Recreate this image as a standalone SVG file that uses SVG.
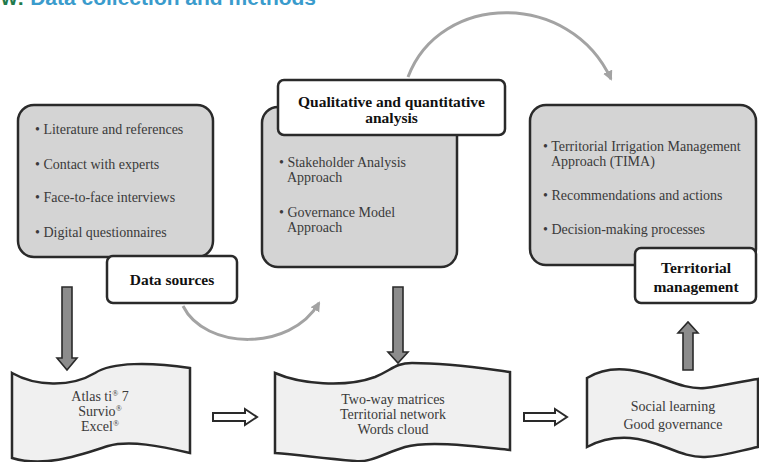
<svg xmlns="http://www.w3.org/2000/svg" width="759" height="462" viewBox="0 0 759 462">
<defs>
<style>
.title{font-family:"Liberation Sans",Arial,sans-serif;font-size:21px;font-weight:bold}
.box{fill:#d4d4d4;stroke:#2a2a2a;stroke-width:2.5}
.lbl{fill:#ffffff;stroke:#2a2a2a;stroke-width:2.5}
.tape{fill:#f0f0f0;stroke:#2a2a2a;stroke-width:2.5}
.t{font-family:"Liberation Serif","Times New Roman",serif;font-size:14px;fill:#3a3a3a}
.b{font-family:"Liberation Serif","Times New Roman",serif;font-size:15.5px;font-weight:bold;fill:#111}
.c{text-anchor:middle}
.down{fill:#8c8c8c;stroke:#2a2a2a;stroke-width:1.6}
.right{fill:#ffffff;stroke:#2a2a2a;stroke-width:2}
.curve{fill:none;stroke:#a3a3a3;stroke-width:3}
</style>
<marker id="ah" markerUnits="userSpaceOnUse" markerWidth="12" markerHeight="12" refX="8" refY="5" orient="auto">
<path d="M0,0 L10,5 L0,10 Z" fill="#a3a3a3"/>
</marker>
</defs>

<text class="title" x="1" y="5"><tspan fill="#1f7a4c">w:</tspan><tspan fill="#3a9bcc"> Data collection and methods</tspan></text>

<g id="connectors">
<path class="curve" d="M183,306 C205,350 290,352 319,303" marker-end="url(#ah)"/>
<path class="curve" d="M408,77 C440,-8 570,-10 611,79" marker-end="url(#ah)"/>
<path class="down" d="M62,287 L72,287 L72,358 L77,358 L67,370 L57,358 L62,358 Z"/>
<path class="down" d="M393,287 L403,287 L403,352 L408,352 L398,363 L388,352 L393,352 Z"/>
<path class="down" d="M683,370 L693,370 L693,333 L698,333 L688,322 L678,333 L683,333 Z"/>
<path class="right" d="M213,413 L245,413 L245,409 L257,417 L245,425 L245,421 L213,421 Z"/>
<path class="right" d="M524,413 L555,413 L555,409 L567,417 L555,425 L555,421 L524,421 Z"/>
</g>

<g id="data-sources-box">
<rect class="box" x="18" y="105" width="195" height="152" rx="16"/>
<text class="t" x="35" y="134">• Literature and references</text>
<text class="t" x="35" y="169">• Contact with experts</text>
<text class="t" x="35" y="202">• Face-to-face interviews</text>
<text class="t" x="35" y="237">• Digital questionnaires</text>
</g>
<g id="data-sources-label">
<rect class="lbl" x="107" y="256" width="130" height="47" rx="6"/>
<text class="b c" x="172" y="285">Data sources</text>
</g>

<g id="analysis-box">
<rect class="box" x="262" y="107" width="195" height="160" rx="16"/>
<text class="t" x="279" y="167">• Stakeholder Analysis</text>
<text class="t" x="287" y="182">Approach</text>
<text class="t" x="279" y="217">• Governance Model</text>
<text class="t" x="287" y="232">Approach</text>
</g>
<g id="analysis-label">
<rect class="lbl" x="278" y="80" width="227" height="55" rx="6"/>
<text class="b c" x="391.5" y="107">Qualitative and quantitative</text>
<text class="b c" x="391.5" y="123">analysis</text>
</g>

<g id="territorial-box">
<rect class="box" x="530" y="105" width="226" height="160" rx="16"/>
<text class="t" x="543" y="151">• Territorial Irrigation Management</text>
<text class="t" x="551" y="166">Approach (TIMA)</text>
<text class="t" x="543" y="200">• Recommendations and actions</text>
<text class="t" x="543" y="234">• Decision-making processes</text>
</g>
<g id="territorial-label">
<rect class="lbl" x="635" y="248" width="121" height="55" rx="6"/>
<text class="b c" x="696" y="273">Territorial</text>
<text class="b c" x="696" y="292">management</text>
</g>

<g id="tools-tape">
<path class="tape" d="M12,373 C35,386 70,388 95,373 C112,362 150,362 190,368 L190,453 C160,446 130,440 108,446 C80,455 45,468 12,458 Z"/>
<text class="t c" x="100" y="401">Atlas ti<tspan font-size="8" dy="-5">®</tspan><tspan dy="5"> 7</tspan></text>
<text class="t c" x="100" y="416">Survio<tspan font-size="8" dy="-5">®</tspan></text>
<text class="t c" x="100" y="431">Excel<tspan font-size="8" dy="-5">®</tspan></text>
</g>

<g id="outputs-tape">
<path class="tape" d="M275,373 C300,384 345,388 375,377 C392,370 395,363 412,363 C450,363 480,368 510,372 L510,450 C480,447 430,440 405,447 C385,453 370,463 355,461 C320,458 300,455 275,453 Z"/>
<text class="t c" x="393" y="404">Two-way matrices</text>
<text class="t c" x="393" y="419">Territorial  network</text>
<text class="t c" x="393" y="434">Words cloud</text>
</g>

<g id="results-tape">
<path class="tape" d="M587,378 C600,370 615,368 630,370 C660,374 680,390 705,388 C725,386 742,381 758,379 L758,447 C742,450 725,456 705,457 C680,458 660,440 630,438 C615,437 600,440 587,447 Z"/>
<text class="t c" x="673" y="411">Social learning</text>
<text class="t c" x="673" y="429">Good governance</text>
</g>
</svg>
